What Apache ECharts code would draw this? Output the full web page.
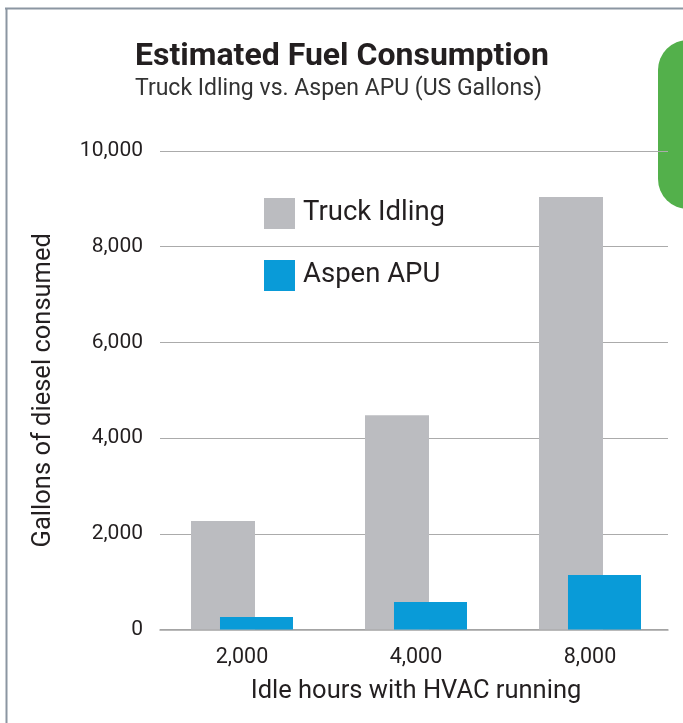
<!DOCTYPE html>
<html>
<head>
<meta charset="utf-8">
<script src="https://cdn.jsdelivr.net/npm/echarts@6/dist/echarts.min.js"></script>
<style>
  html, body { margin: 0; padding: 0; background: #fff; }
  #main { width: 683px; height: 723px; }
</style>
</head>
<body>
<div id="main"></div>
<script>
  // idle hours (x axis)
  var categories = ['2,000', '4,000', '8,000'];
  // gallons of diesel
  var truckIdling = [2270, 4480, 9040];
  var aspenApu = [260, 575, 1140];
  var yMin = 0;
  var yMax = 10000;
  var yStep = 2000;

  var textColor = '#231f20';
  var font = 'Roboto';

  var myChart = echarts.init(document.getElementById('main'));

  var option = {
    backgroundColor: '#fff',
    animation: false,
    title: {
      text: 'Estimated Fuel Consumption',
      subtext: 'Truck Idling vs. Aspen APU (US Gallons)',
      left: 130,
      top: 36,
      itemGap: 5,
      textStyle: { fontFamily: font, fontSize: 32, fontWeight: 'bold', color: textColor },
      subtextStyle: { fontFamily: font, fontSize: 23, color: '#333' }
    },
    legend: {
      orient: 'vertical',
      left: 259,
      top: 193,
      itemWidth: 31,
      itemHeight: 31,
      itemGap: 31,
      icon: 'rect',
      data: ['Truck Idling', 'Aspen APU'],
      textStyle: { fontFamily: font, fontSize: 27.5, lineHeight: 31, color: textColor, padding: [0, 0, 0, 3] }
    },
    // grid 0 carries the value axis and gridlines, grid 1 the bars
    grid: [
      { left: 160, right: 15, top: 151, height: 478.5 },
      { left: 155, width: 522, top: 151, height: 478.5 }
    ],
    xAxis: [{
      gridIndex: 0,
      type: 'category',
      data: categories,
      axisLine: { lineStyle: { color: '#a3a3a3', width: 1.5 } },
      axisTick: { show: false },
      axisLabel: { show: false }
    }, {
      gridIndex: 1,
      type: 'category',
      data: categories,
      axisLine: { show: false },
      axisTick: { show: false },
      axisLabel: { fontFamily: font, fontSize: 21.5, color: textColor, margin: 17 },
      name: 'Idle hours with HVAC running',
      nameLocation: 'middle',
      nameGap: 49,
      nameTextStyle: { fontFamily: font, fontSize: 25.5, color: textColor }
    }],
    yAxis: [{
      gridIndex: 0,
      type: 'value',
      min: yMin,
      max: yMax,
      interval: yStep,
      axisLine: { show: false },
      axisTick: { show: false },
      splitLine: { lineStyle: { color: '#ababab', width: 1.2 } },
      axisLabel: {
        fontFamily: font, fontSize: 21, color: textColor, margin: 17,
        formatter: function (v) { return v.toLocaleString('en-US'); }
      },
      name: 'Gallons of diesel consumed',
      nameLocation: 'middle',
      nameGap: 103,
      nameTextStyle: { fontFamily: font, fontSize: 25.5, color: textColor }
    }, {
      gridIndex: 1,
      type: 'value',
      min: yMin,
      max: yMax,
      show: false
    }],
    series: [{
      name: 'Truck Idling',
      type: 'bar',
      xAxisIndex: 1,
      yAxisIndex: 1,
      barWidth: 64,
      itemStyle: { color: '#bbbcc0' },
      data: truckIdling
    }, {
      name: 'Aspen APU',
      type: 'bar',
      xAxisIndex: 1,
      yAxisIndex: 1,
      barWidth: 73,
      barGap: '-54.7%',
      itemStyle: { color: '#099bd8' },
      data: aspenApu
    }],
    graphic: [
      // page frame
      { type: 'line', shape: { x1: 5, y1: 8.5, x2: 683, y2: 8.5 }, style: { stroke: '#8b96a2', lineWidth: 2 } },
      { type: 'line', shape: { x1: 6.5, y1: 8, x2: 6.5, y2: 723 }, style: { stroke: '#8b96a2', lineWidth: 2 } },
      // green tab on the right
      { type: 'rect', shape: { x: 658, y: 40, width: 60, height: 169, r: 30 }, style: { fill: '#53b04b' } }
    ]
  };

  myChart.setOption(option);
</script>
</body>
</html>
